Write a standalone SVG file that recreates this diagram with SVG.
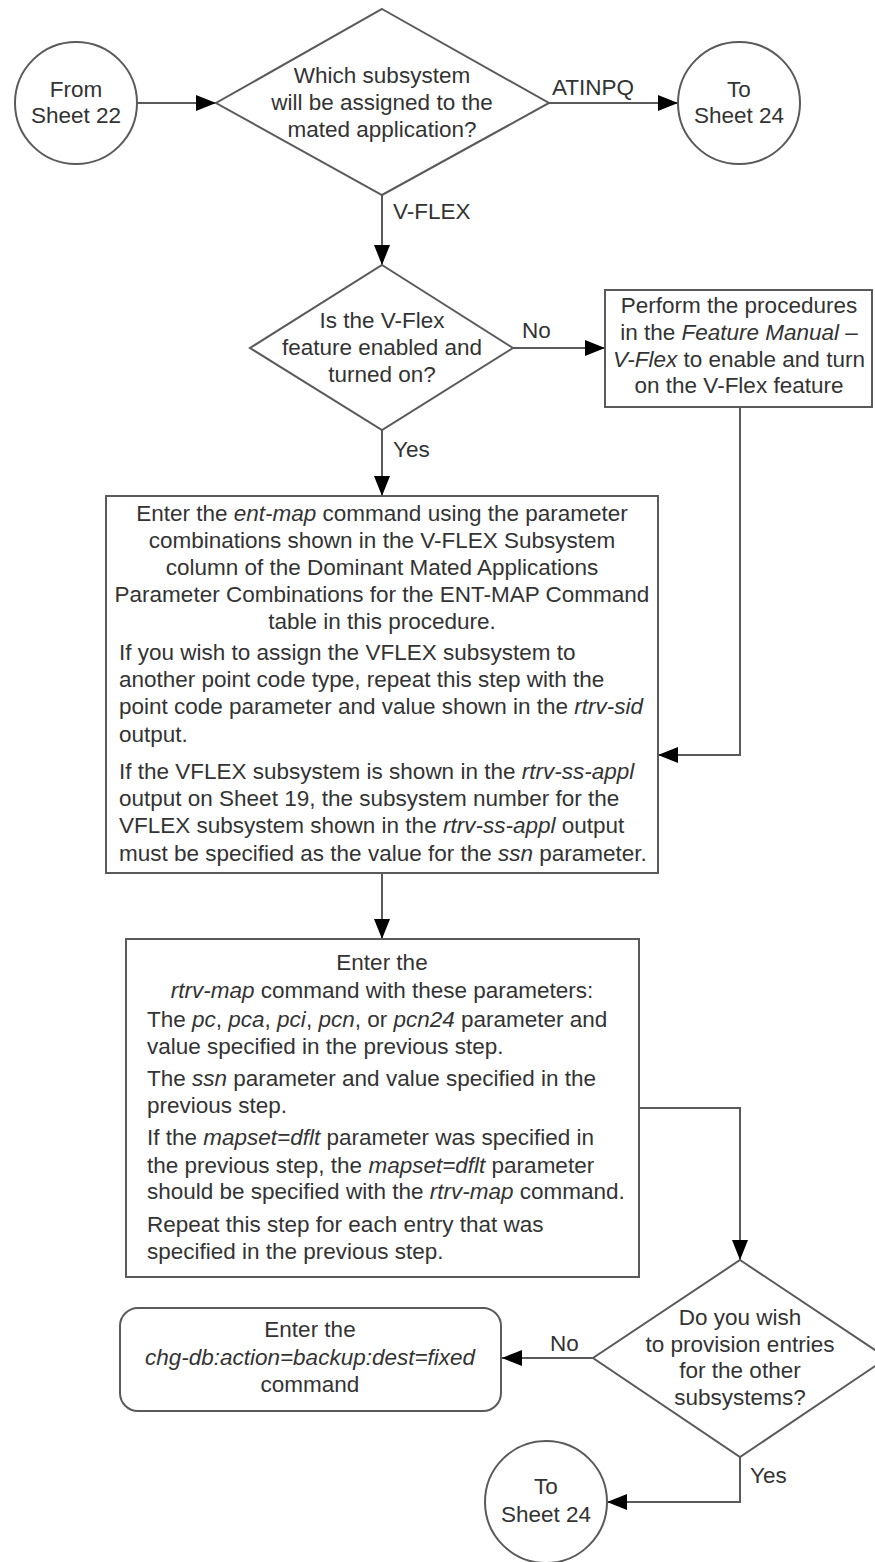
<svg xmlns="http://www.w3.org/2000/svg" width="875" height="1562" viewBox="0 0 875 1562">
<style>
.s{fill:#fff;stroke:#5a5a5a;stroke-width:2}
.c{fill:none;stroke:#5a5a5a;stroke-width:2}
text{font-family:"Liberation Sans",Arial,sans-serif;font-size:22.5px;fill:#333}
.m{text-anchor:middle}
.i{font-style:italic}
</style>
<defs>
<marker id="ah" markerUnits="userSpaceOnUse" markerWidth="20" markerHeight="16" refX="20" refY="8" orient="auto">
<path d="M0,0 L20,8 L0,16 z" fill="#000"/>
</marker>
</defs>
<rect width="875" height="1562" fill="#fff"/>
<g id="connectors">
<path class="c" d="M137,103 H216" marker-end="url(#ah)"/>
<path class="c" d="M549,103 H678" marker-end="url(#ah)"/>
<path class="c" d="M382,195 V265" marker-end="url(#ah)"/>
<path class="c" d="M513,348 H605" marker-end="url(#ah)"/>
<path class="c" d="M382,430 V496" marker-end="url(#ah)"/>
<path class="c" d="M740,407 V755 H658" marker-end="url(#ah)"/>
<path class="c" d="M382,873 V939" marker-end="url(#ah)"/>
<path class="c" d="M639,1108 H740 V1260" marker-end="url(#ah)"/>
<path class="c" d="M593,1358 H502" marker-end="url(#ah)"/>
<path class="c" d="M740,1457 V1502 H607" marker-end="url(#ah)"/>
<text x="552" y="95">ATINPQ</text>
<text x="393" y="219">V-FLEX</text>
<text x="522" y="338">No</text>
<text x="393" y="457">Yes</text>
<text x="550" y="1351">No</text>
<text x="750" y="1483">Yes</text>
</g>
<g id="from22">
<circle class="s" cx="76" cy="103" r="61"/>
<text class="m" x="76" y="97">From</text>
<text class="m" x="76" y="123">Sheet 22</text>
</g>
<g id="which">
<polygon class="s" points="382,9 549,103 382,195 216,103"/>
<text class="m" x="382" y="83">Which subsystem</text>
<text class="m" x="382" y="110">will be assigned to the</text>
<text class="m" x="382" y="137">mated application?</text>
</g>
<g id="to24a">
<circle class="s" cx="739" cy="103" r="61"/>
<text class="m" x="739" y="97">To</text>
<text class="m" x="739" y="123">Sheet 24</text>
</g>
<g id="vflexq">
<polygon class="s" points="382,265 513,348 382,430 250,348"/>
<text class="m" x="382" y="328">Is the V-Flex</text>
<text class="m" x="382" y="355">feature enabled and</text>
<text class="m" x="382" y="382">turned on?</text>
</g>
<g id="perform">
<rect class="s" x="605" y="290" width="267" height="117"/>
<text class="m" x="739" y="313">Perform the procedures</text>
<text class="m" x="739" y="340">in the <tspan class="i">Feature Manual –</tspan></text>
<text class="m" x="739" y="367"><tspan class="i">V-Flex</tspan> to enable and turn</text>
<text class="m" x="739" y="393">on the V-Flex feature</text>
</g>
<g id="entmap">
<rect class="s" x="106" y="496" width="552" height="377"/>
<text class="m" x="382" y="521">Enter the <tspan class="i">ent-map</tspan> command using the parameter</text>
<text class="m" x="382" y="548">combinations shown in the V-FLEX Subsystem</text>
<text class="m" x="382" y="575">column of the Dominant Mated Applications</text>
<text class="m" x="382" y="602">Parameter Combinations for the ENT-MAP Command</text>
<text class="m" x="382" y="629">table in this procedure.</text>
<text x="119" y="660">If you wish to assign the VFLEX subsystem to</text>
<text x="119" y="687">another point code type, repeat this step with the</text>
<text x="119" y="714">point code parameter and value shown in the <tspan class="i">rtrv-sid</tspan></text>
<text x="119" y="742">output.</text>
<text x="119" y="779">If the VFLEX subsystem is shown in the <tspan class="i">rtrv-ss-appl</tspan></text>
<text x="119" y="806">output on Sheet 19, the subsystem number for the</text>
<text x="119" y="833">VFLEX subsystem shown in the <tspan class="i">rtrv-ss-appl</tspan> output</text>
<text x="119" y="861">must be specified as the value for the <tspan class="i">ssn</tspan> parameter.</text>
</g>
<g id="rtrvmap">
<rect class="s" x="126" y="939" width="513" height="338"/>
<text class="m" x="382" y="970">Enter the</text>
<text class="m" x="382" y="998"><tspan class="i">rtrv-map</tspan> command with these parameters:</text>
<text x="147" y="1027">The <tspan class="i">pc</tspan>, <tspan class="i">pca</tspan>, <tspan class="i">pci</tspan>, <tspan class="i">pcn</tspan>, or <tspan class="i">pcn24</tspan> parameter and</text>
<text x="147" y="1054">value specified in the previous step.</text>
<text x="147" y="1086">The <tspan class="i">ssn</tspan> parameter and value specified in the</text>
<text x="147" y="1113">previous step.</text>
<text x="147" y="1145">If the <tspan class="i">mapset=dflt</tspan> parameter was specified in</text>
<text x="147" y="1173">the previous step, the <tspan class="i">mapset=dflt</tspan> parameter</text>
<text x="147" y="1199">should be specified with the <tspan class="i">rtrv-map</tspan> command.</text>
<text x="147" y="1232">Repeat this step for each entry that was</text>
<text x="147" y="1259">specified in the previous step.</text>
</g>
<g id="otherq">
<polygon class="s" points="740,1260 887,1358 740,1457 593,1358"/>
<text class="m" x="740" y="1325">Do you wish</text>
<text class="m" x="740" y="1352">to provision entries</text>
<text class="m" x="740" y="1378">for the other</text>
<text class="m" x="740" y="1405">subsystems?</text>
</g>
<g id="backup">
<rect class="s" x="120" y="1308" width="381" height="103" rx="18"/>
<text class="m" x="310" y="1337">Enter the</text>
<text class="m i" x="310" y="1365">chg-db:action=backup:dest=fixed</text>
<text class="m" x="310" y="1392">command</text>
</g>
<g id="to24b">
<circle class="s" cx="546" cy="1502" r="61"/>
<text class="m" x="546" y="1494">To</text>
<text class="m" x="546" y="1522">Sheet 24</text>
</g>
</svg>
